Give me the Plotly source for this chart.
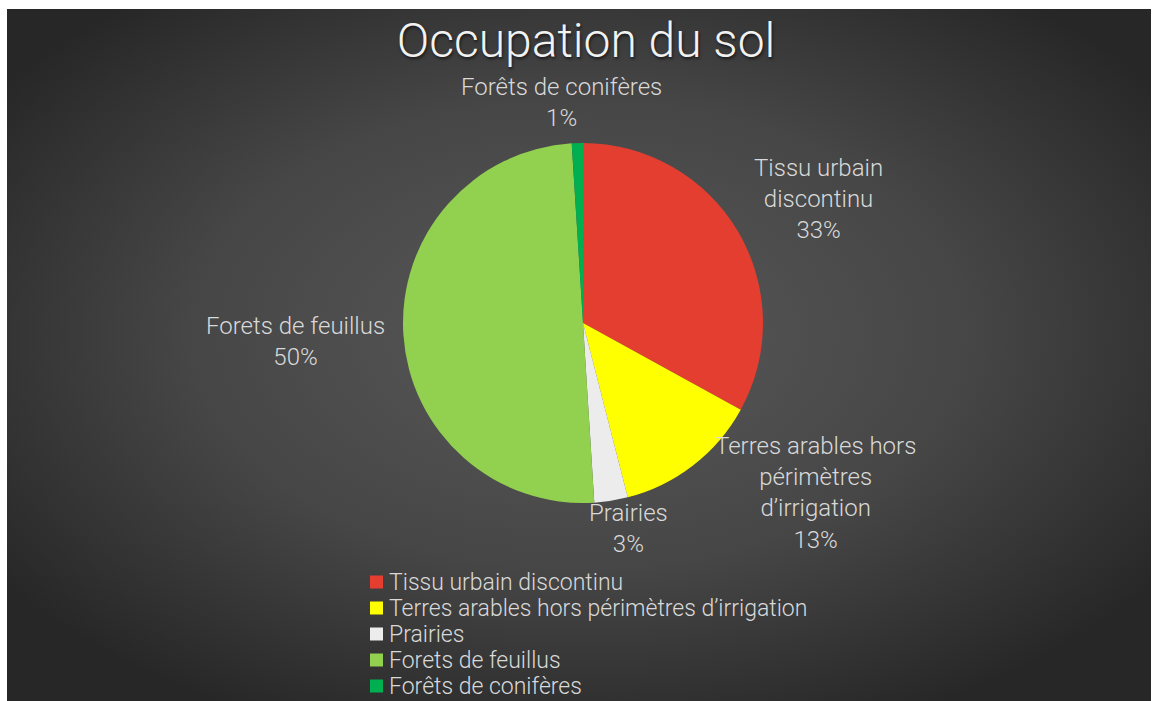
import base64
import plotly.graph_objects as go

# Land-cover shares (percent of surface)
categories = [
    "Tissu urbain discontinu",
    "Terres arables hors périmètres d’irrigation",
    "Prairies",
    "Forets de feuillus",
    "Forêts de conifères",
]
values = [33, 13, 3, 50, 1]

# Wrapped versions of the category names for the slice labels
slice_label_lines = [
    ["Tissu urbain", "discontinu"],
    ["Terres arables hors", "périmètres", "d’irrigation"],
    ["Prairies"],
    ["Forets de feuillus"],
    ["Forêts de conifères"],
]

colors = ["#e33e30", "#ffff00", "#ececec", "#92d050", "#00b050"]

W, H = 1152, 701
FONT = "Roboto"
TEXT_GREY = "#d9d9d9"

# Pie placement (pixels): centre and radius
cx, cy, r = 583, 323, 180

# Label anchor points (pixels), one per slice
label_px = [(818, 199), (815, 493), (628, 528), (295, 341), (561, 103)]

# Legend block (pixels): first row centre, row step, swatch and text x
leg_y0, leg_step = 582, 26.0
sw_x0, sw_size, leg_text_x = 370, 13, 388


def px_x(x):
    return x / W


def px_y(y):
    return 1 - y / H


# Radial gradient backdrop for the chart panel
svg = f"""<svg xmlns='http://www.w3.org/2000/svg' width='{W}' height='{H}' viewBox='0 0 {W} {H}' preserveAspectRatio='none'>
<defs><radialGradient id='g' cx='0.5' cy='0.47' r='0.62' gradientUnits='objectBoundingBox'>
<stop offset='0' stop-color='#595959'/>
<stop offset='0.55' stop-color='#464646'/>
<stop offset='1' stop-color='#272727'/>
</radialGradient></defs>
<rect x='0' y='0' width='{W}' height='{H}' fill='url(#g)'/>
</svg>"""
bg_uri = "data:image/svg+xml;base64," + base64.b64encode(svg.encode("utf-8")).decode("ascii")

fig = go.Figure()

fig.add_trace(
    go.Pie(
        labels=categories,
        values=values,
        sort=False,
        direction="clockwise",
        rotation=0,
        marker=dict(colors=colors, line=dict(width=0)),
        textinfo="none",
        hoverinfo="label+percent",
        domain=dict(
            x=[px_x(cx - r), px_x(cx + r)],
            y=[px_y(cy + r), px_y(cy - r)],
        ),
        showlegend=False,
    )
)

total = sum(values)
annotations = []
for lines, v, (lx, ly) in zip(slice_label_lines, values, label_px):
    pct = round(v / total * 100)
    annotations.append(
        dict(
            text="<br>".join(lines + [f"{pct}%"]),
            x=px_x(lx),
            y=px_y(ly),
            xref="paper",
            yref="paper",
            xanchor="center",
            yanchor="middle",
            showarrow=False,
            align="center",
            font=dict(family=FONT, size=24, color=TEXT_GREY, weight=300),
        )
    )

# Legend rows: colour swatch plus category name
shapes = []
for i, (name, col) in enumerate(zip(categories, colors)):
    yc = leg_y0 + i * leg_step
    shapes.append(
        dict(
            type="rect",
            xref="paper",
            yref="paper",
            x0=px_x(sw_x0),
            x1=px_x(sw_x0 + sw_size),
            y0=px_y(yc + sw_size / 2),
            y1=px_y(yc - sw_size / 2),
            fillcolor=col,
            line=dict(width=0),
            layer="above",
        )
    )
    annotations.append(
        dict(
            text=name,
            x=px_x(leg_text_x),
            y=px_y(yc),
            xref="paper",
            yref="paper",
            xanchor="left",
            yanchor="middle",
            showarrow=False,
            borderpad=0,
            font=dict(family=FONT, size=23, color=TEXT_GREY, weight=300),
        )
    )

fig.update_layout(
    width=W,
    height=H,
    margin=dict(l=0, r=0, t=0, b=0),
    paper_bgcolor="white",
    plot_bgcolor="rgba(0,0,0,0)",
    showlegend=False,
    images=[
        dict(
            source=bg_uri,
            xref="paper",
            yref="paper",
            x=px_x(7),
            y=px_y(9),
            sizex=px_x(1151) - px_x(7),
            sizey=px_y(9),
            sizing="stretch",
            xanchor="left",
            yanchor="top",
            layer="below",
        )
    ],
    title=dict(
        text="Occupation du sol",
        x=px_x(586),
        xanchor="center",
        y=px_y(40),
        yanchor="middle",
        xref="paper",
        yref="paper",
        font=dict(family=FONT, size=48, color="#f2f2f2", weight=300,
                  shadow="1px 2px 3px rgba(0,0,0,0.6)"),
    ),
    shapes=shapes,
    annotations=annotations,
)

fig.write_html("out.html")
